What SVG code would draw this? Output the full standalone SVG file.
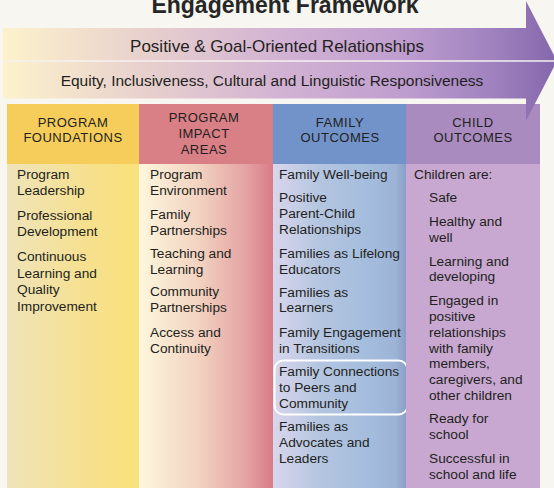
<svg xmlns="http://www.w3.org/2000/svg" width="554" height="488" viewBox="0 0 554 488">
<defs>
<linearGradient id="gArrow" gradientUnits="userSpaceOnUse" x1="3" y1="0" x2="556" y2="0">
<stop offset="0" stop-color="#fdf2cc"/>
<stop offset="0.25" stop-color="#e8d1cd"/>
<stop offset="0.5" stop-color="#d2b3d3"/>
<stop offset="0.72" stop-color="#bf9ecf"/>
<stop offset="0.88" stop-color="#a083bf"/>
<stop offset="1" stop-color="#8567ac"/>
</linearGradient>
<linearGradient id="gC1" x1="0" y1="0" x2="1" y2="0">
<stop offset="0" stop-color="#efe4ba"/>
<stop offset="0.6" stop-color="#f6e08f"/>
<stop offset="1" stop-color="#f9e17a"/>
</linearGradient>
<linearGradient id="gC2" x1="0" y1="0" x2="1" y2="0">
<stop offset="0" stop-color="#fdf7dd"/>
<stop offset="0.45" stop-color="#f2d2c0"/>
<stop offset="0.8" stop-color="#e4a3a3"/>
<stop offset="1" stop-color="#d97b86"/>
</linearGradient>
<linearGradient id="gC3" x1="0" y1="0" x2="1" y2="0">
<stop offset="0" stop-color="#d8d6ec"/>
<stop offset="0.35" stop-color="#b4c5e0"/>
<stop offset="0.7" stop-color="#a5bddd"/>
<stop offset="0.92" stop-color="#9cb3d6"/>
<stop offset="1" stop-color="#899fc8"/>
</linearGradient>
<style>
.t{font-family:"Liberation Sans",Arial,sans-serif;fill:#231f20}
.title{font-size:23px;font-weight:bold;fill:#262626}
.b1{font-size:17px}
.b2{font-size:15.5px}
.h{font-size:13px;letter-spacing:0.5px;text-anchor:middle}
.x{font-size:13.7px}
</style>
</defs>
<rect width="554" height="488" fill="#f7f6f0"/>
<text class="t title" x="285" y="13" text-anchor="middle">Engagement Framework</text>

<g id="col1">
<rect x="7" y="104" width="132" height="60" fill="#f6cd5a"/>
<rect x="7" y="164" width="132" height="324" fill="url(#gC1)"/>
<text class="t h" x="73" y="126.7">PROGRAM</text>
<text class="t h" x="73" y="142.3">FOUNDATIONS</text>
<text class="t x" x="17"><tspan x="17" y="179.3">Program</tspan><tspan x="17" y="195.3">Leadership</tspan><tspan x="17" y="220">Professional</tspan><tspan x="17" y="236">Development</tspan><tspan x="17" y="261">Continuous</tspan><tspan x="17" y="277.5">Learning and</tspan><tspan x="17" y="294">Quality</tspan><tspan x="17" y="310.5">Improvement</tspan></text>
</g>

<g id="col2">
<rect x="139" y="104" width="134" height="60" fill="#d97f86"/>
<rect x="139" y="164" width="134" height="324" fill="url(#gC2)"/>
<text class="t h" x="204" y="122">PROGRAM</text>
<text class="t h" x="204" y="138">IMPACT</text>
<text class="t h" x="204" y="154.3">AREAS</text>
<text class="t x"><tspan x="150" y="179.3">Program</tspan><tspan x="150" y="195.3">Environment</tspan><tspan x="150" y="219">Family</tspan><tspan x="150" y="235">Partnerships</tspan><tspan x="150" y="258">Teaching and</tspan><tspan x="150" y="274">Learning</tspan><tspan x="150" y="296">Community</tspan><tspan x="150" y="312">Partnerships</tspan><tspan x="150" y="336.7">Access and</tspan><tspan x="150" y="352.7">Continuity</tspan></text>
</g>

<g id="col3">
<rect x="273" y="104" width="133" height="60" fill="#7293c9"/>
<rect x="273" y="164" width="133" height="324" fill="url(#gC3)"/>
<text class="t h" x="340" y="126.7">FAMILY</text>
<text class="t h" x="340" y="142.3">OUTCOMES</text>
<text class="t x"><tspan x="279" y="179.3">Family Well-being</tspan><tspan x="279" y="201.7">Positive</tspan><tspan x="279" y="217.7">Parent-Child</tspan><tspan x="279" y="233.5">Relationships</tspan><tspan x="279" y="257.7">Families as Lifelong</tspan><tspan x="279" y="273.5">Educators</tspan><tspan x="279" y="296.7">Families as</tspan><tspan x="279" y="311.7">Learners</tspan><tspan x="279" y="336.7">Family Engagement</tspan><tspan x="279" y="352.7">in Transitions</tspan><tspan x="279" y="376">Family Connections</tspan><tspan x="279" y="392">to Peers and</tspan><tspan x="279" y="408">Community</tspan><tspan x="279" y="431.3">Families as</tspan><tspan x="279" y="447.3">Advocates and</tspan><tspan x="279" y="463.3">Leaders</tspan></text>
<rect x="274.5" y="360.5" width="133" height="54" rx="9" fill="none" stroke="#ffffff" stroke-width="2"/>
</g>

<g id="col4">
<rect x="406" y="104" width="134" height="60" fill="#a98bbf"/>
<rect x="406" y="164" width="134" height="324" fill="#c8a8d1"/>
<text class="t h" x="473" y="126.7">CHILD</text>
<text class="t h" x="473" y="142.3">OUTCOMES</text>
<text class="t x"><tspan x="414" y="179.3">Children are:</tspan><tspan x="429" y="201.7">Safe</tspan><tspan x="429" y="226">Healthy and</tspan><tspan x="429" y="241.5">well</tspan><tspan x="429" y="265.7">Learning and</tspan><tspan x="429" y="281.3">developing</tspan><tspan x="429" y="305">Engaged in</tspan><tspan x="429" y="320.7">positive</tspan><tspan x="429" y="336.7">relationships</tspan><tspan x="429" y="352.7">with family</tspan><tspan x="429" y="368.3">members,</tspan><tspan x="429" y="384.3">caregivers, and</tspan><tspan x="429" y="400">other children</tspan><tspan x="429" y="423.3">Ready for</tspan><tspan x="429" y="439">school</tspan><tspan x="429" y="463.3">Successful in</tspan><tspan x="429" y="479.3">school and life</tspan></text>
</g>

<g id="arrow">
<polygon points="3,28 526,28 526,1 557,61 526,121 526,98.5 3,98.5" fill="url(#gArrow)"/>
<line x1="3" y1="61" x2="556" y2="61" stroke="#f7f1f1" stroke-width="1.5"/>
<text class="t b1" x="277" y="52.3" text-anchor="middle">Positive &amp; Goal-Oriented Relationships</text>
<text class="t b2" x="272" y="85.7" text-anchor="middle">Equity, Inclusiveness, Cultural and Linguistic Responsiveness</text>
</g>
</svg>
